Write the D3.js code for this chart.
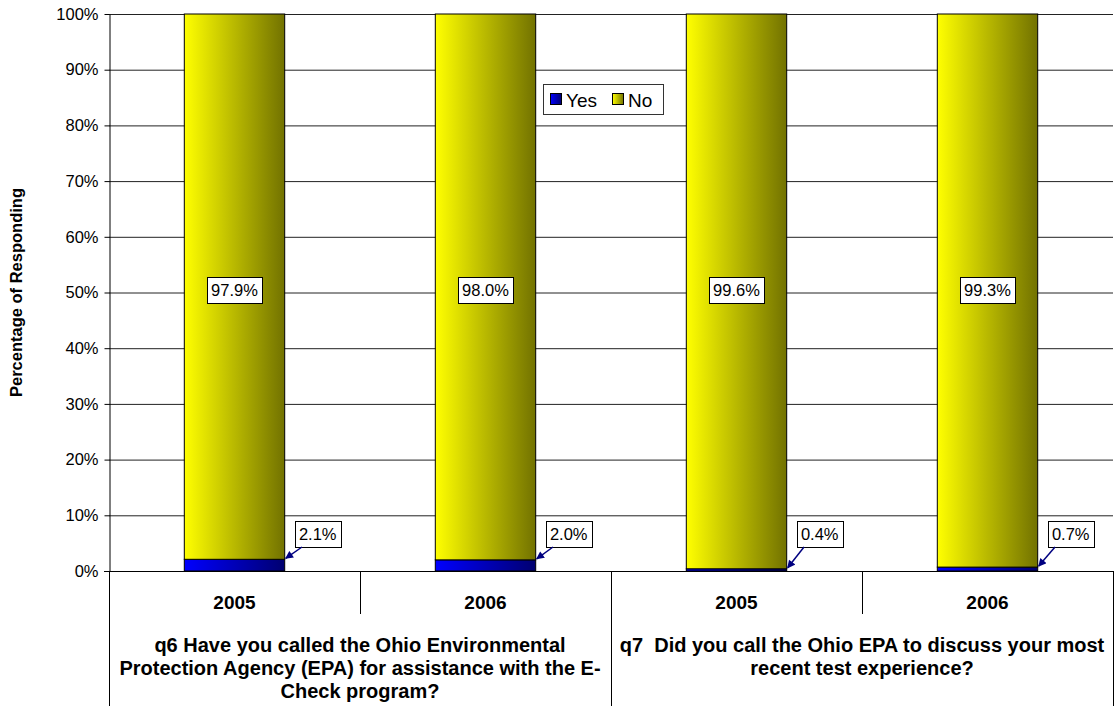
<!DOCTYPE html>
<html>
<head>
<meta charset="utf-8">
<script src="https://cdn.jsdelivr.net/npm/d3@7"></script>
<style>
  html, body { margin: 0; padding: 0; background: #fff; }
  svg { display: block; font-family: "Liberation Sans", Arial, sans-serif; }
</style>
</head>
<body>
<svg id="chart" width="1117" height="706"></svg>
<script>
// Survey answers, per question and year
const years = ["2005", "2006", "2005", "2006"];
const questionIds = ["q6", "q6", "q7", "q7"];
const yesValues = [2.1, 2.0, 0.4, 0.7];
const noValues = [97.9, 98.0, 99.6, 99.3];
const seriesNames = ["Yes", "No"];
const yTicks = [0, 10, 20, 30, 40, 50, 60, 70, 80, 90, 100];
const questionLines = {
  q6: ["q6 Have you called the Ohio Environmental",
       "Protection Agency (EPA) for assistance with the E-",
       "Check program?"],
  q7: ["q7  Did you call the Ohio EPA to discuss your most",
       "recent test experience?"]
};

const svg = d3.select("#chart");
const plotL = 109, plotR = 1113, plotT = 14, plotB = 571;
const font = "'Liberation Sans', Arial, sans-serif";

const x = d3.scaleBand().domain(d3.range(years.length)).range([plotL, plotR]).padding(0);
const y = d3.scaleLinear().domain([0, 100]).range([plotB, plotT]);
const barW = x.bandwidth() * 0.4;

// Gradients for bar fills
const defs = svg.append("defs");
function grad(id, c1, c2) {
  const g = defs.append("linearGradient").attr("id", id)
    .attr("x1", "0%").attr("x2", "100%").attr("y1", "0%").attr("y2", "0%");
  g.append("stop").attr("offset", "0%").attr("stop-color", c1);
  g.append("stop").attr("offset", "100%").attr("stop-color", c2);
}
grad("gYes", "#0000ff", "#000070");
grad("gNo", "#ffff00", "#727200");
const marker = defs.append("marker").attr("id", "arrow")
  .attr("viewBox", "0 0 10 10").attr("refX", 9).attr("refY", 5)
  .attr("markerWidth", 9).attr("markerHeight", 8).attr("orient", "auto")
  .attr("markerUnits", "userSpaceOnUse");
marker.append("path").attr("d", "M0,0 L10,5 L0,10 z").attr("fill", "#000080");

// Gridlines
svg.append("g").selectAll("line").data(yTicks.filter(t => t > 0)).join("line")
  .attr("x1", plotL).attr("x2", plotR)
  .attr("y1", d => y(d) + 0.5).attr("y2", d => y(d) + 0.5)
  .attr("stroke", "#222").attr("stroke-width", 1);

// Y axis
const yAxis = svg.append("g").attr("transform", `translate(${plotL + 0.5},0)`)
  .call(d3.axisLeft(y).tickValues(yTicks).tickFormat(d => d + "%").tickSize(5).tickSizeOuter(0));
yAxis.select(".domain").attr("stroke", "#000");
yAxis.selectAll(".tick line").attr("stroke", "#000");
yAxis.selectAll(".tick text").attr("font-family", font).attr("font-size", 16.5)
  .attr("fill", "#000").attr("x", -11);

svg.append("text")
  .attr("transform", `translate(22,${(plotT + plotB) / 2}) rotate(-90)`)
  .attr("text-anchor", "middle").attr("font-family", font)
  .attr("font-size", 16.5).attr("font-weight", "bold").text("Percentage of Responding");

// Stacked bars
const bars = svg.append("g");
years.forEach((yr, i) => {
  const bx = x(i) + (x.bandwidth() - barW) / 2;
  bars.append("rect").attr("x", bx).attr("width", barW)
    .attr("y", y(yesValues[i])).attr("height", y(0) - y(yesValues[i]))
    .attr("fill", "url(#gYes)").attr("stroke", "#000").attr("stroke-width", 1);
  bars.append("rect").attr("x", bx).attr("width", barW)
    .attr("y", y(yesValues[i] + noValues[i])).attr("height", y(yesValues[i]) - y(yesValues[i] + noValues[i]))
    .attr("fill", "url(#gNo)").attr("stroke", "#000").attr("stroke-width", 1);
});

// Value labels
function boxLabel(cx, cy, txt) {
  const g = svg.append("g");
  const t = g.append("text").attr("x", cx).attr("y", cy + 6).attr("text-anchor", "middle")
    .attr("font-family", font).attr("font-size", 16.5).attr("fill", "#000").text(txt);
  const bb = t.node().getBBox();
  g.insert("rect", "text").attr("x", Math.round(bb.x - 4) + 0.5).attr("y", Math.round(cy - 13) + 0.5)
    .attr("width", Math.round(bb.width + 8)).attr("height", 26)
    .attr("fill", "#fff").attr("stroke", "#000").attr("stroke-width", 1);
  return { x: Math.round(bb.x - 4), y: Math.round(cy - 13), w: Math.round(bb.width + 8), h: 26 };
}
years.forEach((yr, i) => {
  const cx = x(i) + x.bandwidth() / 2;
  boxLabel(cx, y((yesValues[i] + noValues[i]) / 2) - 3, noValues[i].toFixed(1) + "%");
  const barRight = cx + barW / 2;
  const bcx = barRight + 33;
  const b = boxLabel(bcx, y(0) - 37, yesValues[i].toFixed(1) + "%");
  svg.append("line").attr("x1", b.x + 7).attr("y1", b.y + b.h)
    .attr("x2", barRight + 1).attr("y2", y(yesValues[i]) - 1)
    .attr("stroke", "#000080").attr("stroke-width", 1.5).attr("marker-end", "url(#arrow)");
});

// Category axis
const cat = svg.append("g").attr("stroke", "#000").attr("stroke-width", 1);
cat.append("line").attr("x1", plotL - 5).attr("x2", plotR).attr("y1", plotB + 0.5).attr("y2", plotB + 0.5);
[plotL, x(2), plotR].forEach(v => {
  cat.append("line").attr("x1", v + 0.5).attr("x2", v + 0.5).attr("y1", plotB).attr("y2", 706);
});
[x(1), x(3)].forEach(v => {
  cat.append("line").attr("x1", v + 0.5).attr("x2", v + 0.5).attr("y1", plotB).attr("y2", 614);
});
years.forEach((yr, i) => {
  svg.append("text").attr("x", x(i) + x.bandwidth() / 2).attr("y", 609)
    .attr("text-anchor", "middle").attr("font-family", font).attr("font-size", 19)
    .attr("font-weight", "bold").text(yr);
});
const groups = d3.groups(d3.range(years.length), i => questionIds[i]);
groups.forEach(([q, idx]) => {
  const cx = (x(idx[0]) + x(idx[idx.length - 1]) + x.bandwidth()) / 2;
  questionLines[q].forEach((line, k) => {
    svg.append("text").attr("x", cx).attr("y", 652 + k * 23)
      .attr("text-anchor", "middle").attr("font-family", font).attr("font-size", 20)
      .attr("font-weight", "bold").attr("xml:space", "preserve").text(line);
  });
});

// Legend
const lg = svg.append("g");
lg.append("rect").attr("x", 543.5).attr("y", 84.5).attr("width", 120).attr("height", 30)
  .attr("fill", "#fff").attr("stroke", "#333");
const legendPos = [550, 612];
seriesNames.forEach((s, i) => {
  lg.append("rect").attr("x", legendPos[i] + 0.5).attr("y", 93.5).attr("width", 11).attr("height", 11)
    .attr("fill", i === 0 ? "url(#gYes)" : "url(#gNo)").attr("stroke", "#000");
  lg.append("text").attr("x", legendPos[i] + 16).attr("y", 107).attr("font-family", font)
    .attr("font-size", 19).text(s);
});
</script>
</body>
</html>
